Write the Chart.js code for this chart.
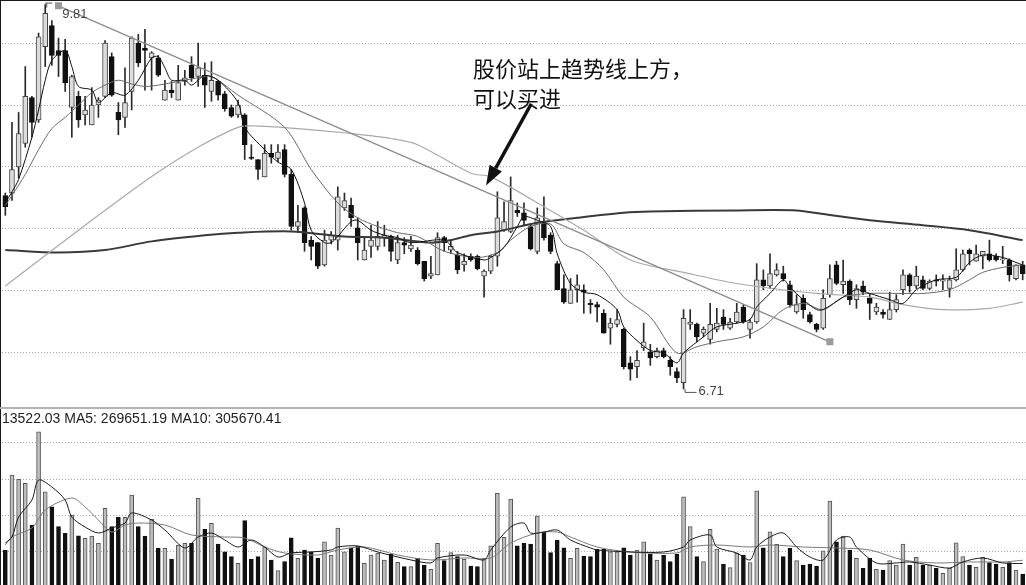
<!DOCTYPE html>
<html>
<head>
<meta charset="utf-8">
<script src="https://cdn.jsdelivr.net/npm/chart.js@4.4.1/dist/chart.umd.min.js"></script>
<style>
  html, body { margin: 0; padding: 0; background: #fff; overflow: hidden; }
  #wrap { position: relative; width: 1026px; height: 585px; }
  canvas { position: absolute; left: 0; }
  #priceCanvas { top: 0; }
  #volCanvas { top: 409px; }
  .note { position: absolute; left: 473px; top: 52px; font: 22px/30px "Noto Sans CJK SC", sans-serif; color: #111; }
  .volhead { position: absolute; left: 2px; top: 410px; font: 14px/16px "Liberation Sans", Arial, sans-serif; color: #222; white-space: pre; }
  .tag { position: absolute; font: 13px/14px "Liberation Sans", Arial, sans-serif; color: #444; }
</style>
</head>
<body>
<div id="wrap">
  <canvas id="priceCanvas" width="1026" height="409"></canvas>
  <canvas id="volCanvas" width="1026" height="176"></canvas>
  <div class="note">股价站上趋势线上方，<br>可以买进</div>
  <div class="volhead">13522.03 MA5: 269651.19 MA10: 305670.41</div>
  <div class="tag" id="hiTag"></div>
  <div class="tag" id="loTag"></div>
</div>

<script>
// ===================== DATA =====================

// daily candles (154 trading days)
const opens = [
  8.27, 8.29, 8.50, 8.69, 9.06, 8.88, 9.47, 9.64, 9.44, 9.44,
  8.98, 9.07, 8.92, 8.84, 9.00, 9.07, 9.39, 8.94, 8.90, 9.11,
  9.50, 9.46, 9.38, 9.38, 9.04, 9.12, 9.04, 9.19, 9.32, 9.23,
  9.24, 9.11, 9.19, 9.09, 8.98, 8.92, 8.92, 8.58, 8.56, 8.42,
  8.61, 8.57, 8.64, 8.44, 8.02, 8.17, 7.91, 7.89, 7.71, 7.91,
  7.91, 8.17, 8.19, 8.01, 7.75, 7.86, 7.86, 7.93, 7.94, 7.75,
  7.89, 7.84, 7.83, 7.74, 7.62, 7.63, 7.93, 7.83, 7.79, 7.71,
  7.78, 7.78, 7.62, 7.66, 7.78, 7.99, 7.98, 8.15, 8.13, 8.02,
  7.82, 8.05, 7.95, 7.72, 7.52, 7.40, 7.51, 7.51, 7.40, 7.39,
  7.32, 7.20, 7.23, 7.19, 6.92, 6.89, 7.04, 7.01, 6.97, 7.02,
  6.94, 6.85, 6.76, 7.23, 7.23, 7.16, 7.11, 7.19, 7.29, 7.20,
  7.25, 7.37, 7.19, 7.25, 7.59, 7.54, 7.63, 7.64, 7.55, 7.33,
  7.44, 7.31, 7.23, 7.20, 7.47, 7.71, 7.55, 7.58, 7.43, 7.54,
  7.44, 7.33, 7.33, 7.27, 7.35, 7.51, 7.63, 7.54, 7.59, 7.52,
  7.59, 7.58, 7.52, 7.59, 7.67, 7.83, 7.74, 7.78, 7.80, 7.78,
  7.75, 7.75, 7.60, 7.71
];
const closes = [
  8.18, 8.48, 8.77, 9.07, 8.86, 9.55, 9.74, 9.40, 9.40, 9.18,
  9.23, 8.88, 8.96, 9.00, 9.04, 9.50, 9.08, 8.88, 9.02, 9.54,
  9.34, 9.44, 9.42, 9.24, 9.12, 9.10, 9.18, 9.22, 9.22, 9.30,
  9.16, 9.20, 9.08, 8.97, 8.91, 9.00, 8.68, 8.57, 8.48, 8.61,
  8.58, 8.62, 8.44, 8.02, 8.06, 7.89, 7.86, 7.70, 7.91, 7.95,
  8.26, 8.23, 8.09, 7.89, 7.83, 7.91, 7.94, 7.95, 7.82, 7.89,
  7.87, 7.87, 7.72, 7.60, 7.64, 7.93, 7.89, 7.86, 7.67, 7.74,
  7.75, 7.68, 7.66, 7.78, 8.09, 8.06, 8.23, 8.13, 8.07, 7.84,
  8.09, 7.93, 7.82, 7.51, 7.41, 7.51, 7.55, 7.49, 7.39, 7.37,
  7.16, 7.24, 7.27, 6.89, 6.87, 6.94, 7.09, 6.96, 7.02, 6.97,
  6.89, 6.80, 7.28, 7.25, 7.13, 7.19, 7.23, 7.24, 7.23, 7.25,
  7.33, 7.25, 7.25, 7.59, 7.54, 7.64, 7.67, 7.60, 7.39, 7.39,
  7.35, 7.25, 7.19, 7.44, 7.60, 7.56, 7.58, 7.43, 7.52, 7.49,
  7.40, 7.37, 7.31, 7.35, 7.43, 7.63, 7.54, 7.62, 7.52, 7.58,
  7.58, 7.59, 7.59, 7.67, 7.80, 7.80, 7.80, 7.82, 7.75, 7.75,
  7.76, 7.63, 7.71, 7.64
];
const highs = [
  8.29, 8.86, 8.94, 9.31, 9.07, 9.58, 9.81, 9.68, 9.54, 9.53,
  9.24, 9.11, 9.07, 9.14, 9.06, 9.52, 9.42, 9.02, 9.30, 9.55,
  9.57, 9.61, 9.43, 9.40, 9.20, 9.19, 9.32, 9.28, 9.39, 9.50,
  9.34, 9.35, 9.20, 9.11, 9.00, 9.04, 8.93, 8.68, 8.56, 8.68,
  8.68, 8.68, 8.68, 8.48, 8.19, 8.18, 7.94, 7.89, 7.99, 7.98,
  8.34, 8.29, 8.25, 8.09, 7.93, 8.03, 8.06, 8.03, 7.95, 7.95,
  7.93, 7.94, 7.85, 7.74, 7.78, 7.97, 7.94, 7.91, 7.82, 7.80,
  7.80, 7.79, 7.67, 7.79, 8.30, 8.22, 8.42, 8.21, 8.21, 8.03,
  8.17, 8.26, 7.97, 7.74, 7.63, 7.60, 7.63, 7.55, 7.43, 7.41,
  7.35, 7.28, 7.35, 7.20, 6.97, 7.02, 7.24, 7.07, 7.04, 7.04,
  6.97, 6.88, 7.35, 7.35, 7.24, 7.21, 7.40, 7.36, 7.35, 7.28,
  7.40, 7.39, 7.27, 7.72, 7.67, 7.80, 7.72, 7.70, 7.58, 7.47,
  7.47, 7.33, 7.24, 7.51, 7.71, 7.74, 7.75, 7.59, 7.55, 7.58,
  7.48, 7.40, 7.35, 7.49, 7.47, 7.67, 7.64, 7.70, 7.62, 7.59,
  7.63, 7.63, 7.62, 7.84, 7.83, 7.84, 7.87, 7.82, 7.91, 7.80,
  7.86, 7.76, 7.71, 7.74
];
const lows = [
  8.11, 8.23, 8.41, 8.66, 8.74, 8.86, 9.31, 9.32, 9.23, 9.11,
  8.74, 8.82, 8.84, 8.84, 8.90, 9.06, 9.07, 8.76, 8.82, 8.96,
  9.31, 9.12, 9.12, 9.23, 9.04, 9.06, 9.04, 9.16, 9.19, 9.15,
  8.98, 9.03, 9.04, 8.95, 8.90, 8.90, 8.56, 8.56, 8.40, 8.42,
  8.53, 8.54, 8.42, 7.99, 7.97, 7.82, 7.75, 7.68, 7.70, 7.88,
  7.83, 8.15, 8.02, 7.75, 7.75, 7.77, 7.83, 7.86, 7.74, 7.72,
  7.80, 7.82, 7.71, 7.58, 7.60, 7.63, 7.82, 7.80, 7.64, 7.66,
  7.74, 7.67, 7.45, 7.64, 7.70, 7.98, 7.97, 8.10, 8.03, 7.83,
  7.80, 7.91, 7.80, 7.51, 7.40, 7.40, 7.41, 7.32, 7.32, 7.25,
  7.16, 7.07, 7.21, 6.87, 6.78, 6.80, 7.02, 6.90, 6.96, 6.96,
  6.82, 6.76, 6.71, 7.19, 7.09, 7.13, 7.07, 7.17, 7.19, 7.19,
  7.24, 7.24, 7.12, 7.24, 7.51, 7.52, 7.62, 7.58, 7.37, 7.32,
  7.28, 7.24, 7.17, 7.19, 7.45, 7.55, 7.48, 7.39, 7.36, 7.47,
  7.27, 7.31, 7.28, 7.27, 7.33, 7.47, 7.49, 7.52, 7.51, 7.51,
  7.54, 7.51, 7.45, 7.58, 7.66, 7.71, 7.74, 7.68, 7.74, 7.74,
  7.72, 7.58, 7.59, 7.59
];

// volume, in units of 10,000
const volumes = [
  41.9, 124.5, 119.8, 115.4, 69.4, 172.2, 106.1, 89.6, 67.6, 60.3,
  80.4, 57.6, 54.8, 57.3, 49.3, 87.8, 67.6, 77.9, 77.9, 102.5,
  67.6, 57.3, 75.7, 43.7, 43.7, 31.6, 47.4, 49.3, 49.3, 98.8,
  64.7, 71.3, 48.5, 40.0, 34.5, 27.2, 74.2, 31.6, 34.5, 45.5,
  30.9, 19.1, 29.0, 55.4, 32.7, 41.9, 40.0, 32.7, 51.0, 36.4,
  66.1, 40.0, 43.7, 46.3, 27.2, 36.4, 38.2, 30.9, 37.5, 28.3,
  23.5, 23.5, 32.7, 25.3, 20.6, 49.3, 30.1, 38.9, 34.5, 31.6,
  24.2, 23.5, 32.7, 46.6, 104.4, 55.9, 98.1, 46.6, 49.3, 48.5,
  79.3, 61.4, 38.9, 52.9, 44.4, 32.7, 43.7, 35.3, 34.5, 42.6,
  42.6, 40.0, 40.0, 44.4, 36.4, 41.9, 51.0, 37.5, 30.9, 36.0,
  29.0, 37.5, 100.6, 67.6, 34.5, 29.0, 64.7, 43.0, 26.4, 22.4,
  38.2, 36.4, 27.9, 107.2, 44.4, 62.0, 48.2, 34.5, 43.7, 30.1,
  25.3, 26.4, 24.2, 41.1, 95.9, 51.0, 57.3, 41.9, 32.7, 21.7,
  32.7, 20.6, 19.8, 30.1, 25.3, 48.5, 25.3, 33.8, 25.3, 25.3,
  21.7, 16.2, 21.7, 49.9, 34.5, 25.3, 22.8, 33.8, 27.9, 26.4,
  22.8, 27.9, 19.8, 15.4
];

// moving average lines, read at points along each curve: [day index, value]
const ma5Points = [
  [0, 8.21], [1, 8.30], [2, 8.40], [4, 8.74], [5, 8.96], [6, 9.20], [7, 9.36], [9, 9.44],
  [10, 9.31], [11, 9.15], [13, 9.12], [14, 9.02], [16, 9.10], [18, 9.08], [20, 9.20],
  [22, 9.38], [23, 9.39], [24, 9.30], [25, 9.20], [27, 9.20], [28, 9.16], [29, 9.20],
  [30, 9.24], [32, 9.20], [35, 9.02], [36, 8.82], [39, 8.64], [41, 8.54], [43, 8.48],
  [45, 8.21], [46, 7.99], [48, 7.89], [49, 7.89], [50, 7.94], [52, 8.06], [53, 8.07],
  [55, 7.99], [57, 7.95], [59, 7.93], [61, 7.89], [66, 7.91], [68, 7.81], [72, 7.75],
  [73, 7.77], [75, 7.85], [77, 8.02], [78, 8.10], [80, 8.07], [82, 8.02], [83, 7.80],
  [85, 7.56], [87, 7.49], [89, 7.47], [92, 7.35], [93, 7.21], [95, 7.10], [97, 7.02],
  [99, 7.00], [101, 6.92], [102, 7.00], [105, 7.13], [107, 7.21], [110, 7.24], [112, 7.27],
  [113, 7.37], [115, 7.48], [117, 7.59], [118, 7.53], [120, 7.43], [122, 7.35], [123, 7.35],
  [126, 7.45], [128, 7.51], [130, 7.48], [133, 7.43], [135, 7.40], [137, 7.51], [140, 7.59],
  [143, 7.61], [145, 7.73], [147, 7.79], [150, 7.77], [152, 7.73], [153, 7.71]
];
const ma10Points = [
  [0, 8.19], [1, 8.27], [3, 8.44], [5, 8.64], [7, 8.81], [9, 8.90], [11, 9.00], [13, 9.10],
  [15, 9.16], [17, 9.20], [19, 9.17], [21, 9.15], [23, 9.16], [25, 9.18], [27, 9.20],
  [29, 9.22], [31, 9.23], [35, 9.08], [42, 8.82], [46, 8.48], [50, 8.21], [53, 8.09],
  [56, 8.02], [59, 7.97], [62, 7.94], [66, 7.82], [71, 7.77], [74, 7.81], [76, 7.91],
  [79, 8.02], [82, 8.04], [84, 7.88], [87, 7.81], [90, 7.67], [93, 7.45], [97, 7.29],
  [101, 7.00], [104, 7.05], [107, 7.09], [111, 7.13], [114, 7.21], [117, 7.35], [120, 7.40],
  [123, 7.35], [126, 7.45], [130, 7.48], [135, 7.48], [138, 7.48], [142, 7.51], [145, 7.59],
  [147, 7.65], [150, 7.69], [153, 7.71]
];
const ma60Points = [
  [0, 7.54], [11, 7.99], [17, 8.23], [23, 8.46], [29, 8.66], [35, 8.82], [38, 8.83],
  [44, 8.81], [52, 8.77], [58, 8.73], [62, 8.68], [70, 8.45], [73, 8.42], [81, 8.18],
  [87, 7.99], [94, 7.75], [102, 7.65], [110, 7.56], [122, 7.48], [130, 7.45], [135, 7.39],
  [141, 7.35], [148, 7.36], [153, 7.41]
];
const ma250Points = [
  [0, 7.83], [8, 7.81], [15, 7.83], [22, 7.90], [30, 7.95], [35, 7.97], [43, 7.98],
  [51, 7.94], [57, 7.93], [64, 7.89], [67, 7.91], [70, 7.95], [74, 7.98], [80, 8.05],
  [86, 8.09], [93, 8.13], [97, 8.14], [110, 8.15], [119, 8.15], [123, 8.12], [130, 8.07],
  [138, 8.03], [145, 7.99], [153, 7.91]
];
// trend line drawn through the two anchor days
const trendPoints = [[8, 9.80], [124, 7.09]];

const volMa5Points = [
  [0, 49.6], [1, 56.2], [2, 78.2], [4, 97.0], [5, 119.0], [7, 111.3], [9, 97.0], [10, 78.2],
  [12, 67.2], [14, 60.6], [16, 66.1], [18, 71.6], [19, 82.7], [22, 74.9], [24, 63.9],
  [27, 44.1], [29, 56.2], [31, 60.6], [33, 52.9], [35, 45.2], [37, 52.9], [39, 45.2],
  [41, 34.2], [43, 38.6], [46, 39.7], [49, 41.9], [50, 45.2], [53, 46.3], [56, 39.7],
  [61, 30.9], [64, 27.6], [65, 33.1], [69, 36.4], [72, 30.9], [73, 41.9], [76, 67.2],
  [78, 71.6], [79, 60.6], [81, 61.7], [83, 63.9], [85, 52.9], [88, 44.1], [89, 41.9],
  [94, 39.7], [99, 39.7], [102, 45.2], [103, 52.9], [106, 58.4], [107, 45.2], [110, 38.6],
  [112, 30.9], [113, 45.2], [115, 56.2], [117, 60.6], [119, 45.2], [121, 34.2], [123, 30.9],
  [125, 52.9], [127, 56.2], [128, 45.2], [131, 27.6], [134, 27.6], [136, 28.7], [139, 25.3],
  [142, 22.0], [144, 28.7], [147, 33.1], [150, 27.6], [153, 27.0]
];
const volMa10Points = [
  [0, 47.4], [1, 56.2], [4, 66.1], [6, 86.0], [10, 99.2], [12, 89.3], [14, 74.9], [16, 61.7],
  [18, 69.4], [20, 71.6], [24, 69.4], [28, 58.4], [33, 56.2], [36, 55.1], [39, 45.2],
  [42, 38.6], [47, 36.4], [50, 41.9], [54, 45.2], [59, 36.4], [64, 30.9], [69, 33.1],
  [73, 33.1], [76, 49.6], [80, 60.6], [83, 61.7], [85, 56.2], [89, 45.2], [94, 39.7],
  [101, 38.6], [103, 45.2], [107, 47.4], [112, 45.2], [115, 47.4], [120, 45.2], [125, 44.1],
  [130, 41.9], [135, 30.9], [140, 27.6], [145, 28.7], [150, 28.7], [153, 30.6]
];

// grid levels
const priceGridTicks = [7.0, 7.5, 8.0, 8.5, 9.0, 9.5];
const volGridTicks = [40, 80, 120, 160];

// visible value windows of the two panels
const PRICE_MIN = 6.556, PRICE_MAX = 9.847;
const VOL_MIN = 3.3, VOL_MAX = 197.3;

// arrow annotation, anchored in data space: [day index, price]
const arrowTail = [79.1, 9.01];
const arrowTip = [72.3, 8.35];

// ===================== HELPERS =====================

const labels = opens.map((_, i) => String(i + 1));
const dense = pts => {
  const a = new Array(labels.length).fill(null);
  pts.forEach(([i, v]) => { a[i] = v; });
  return a;
};
const isUp = i => closes[i] >= opens[i];

const UP_FILL = '#dcdcdc', UP_EDGE = '#444444', DOWN_FILL = '#111111';
const VOL_UP_FILL = '#bdbdbd', VOL_UP_EDGE = '#555555';

const lineStyle = (color, width) => ({
  type: 'line', borderColor: color, borderWidth: width, pointRadius: 0,
  spanGaps: true, tension: 0.3, fill: false
});

const hiIdx = highs.indexOf(Math.max(...highs));
const loIdx = lows.indexOf(Math.min(...lows));

// ===================== PRICE PANEL =====================

const priceDecor = {
  id: 'priceDecor',
  afterDraw(chart) {
    const { ctx, scales: { x, y } } = chart;
    const w = chart.width, h = chart.height;
    ctx.save();
    // frame and separator
    ctx.fillStyle = '#1a1a1a';
    ctx.fillRect(0, 0, w, 1);
    ctx.fillRect(0, 0, 1, h);
    ctx.fillStyle = '#b4b4b4';
    ctx.fillRect(0, h - 2, w, 2);

    // max / min markers
    ctx.strokeStyle = '#555';
    ctx.lineWidth = 1;
    const hx = x.getPixelForValue(hiIdx), hy = y.getPixelForValue(highs[hiIdx]);
    ctx.beginPath();
    ctx.moveTo(hx, hy - 1.5); ctx.lineTo(hx + 7, hy - 1.5);
    ctx.moveTo(hx + 1.5, hy - 1.5); ctx.lineTo(hx + 1.5, hy + 3);
    ctx.stroke();
    const lx = x.getPixelForValue(loIdx), ly = y.getPixelForValue(lows[loIdx]);
    ctx.beginPath();
    ctx.moveTo(lx + 1.5, ly); ctx.lineTo(lx + 1.5, ly + 3.5); ctx.lineTo(lx + 13, ly + 3.5);
    ctx.stroke();

    // arrow
    const fx = x.getPixelForValue(arrowTail[0]), fy = y.getPixelForValue(arrowTail[1]);
    const tx = x.getPixelForValue(arrowTip[0]), ty = y.getPixelForValue(arrowTip[1]);
    const ang = Math.atan2(ty - fy, tx - fx);
    const headLen = 20, headW = 7;
    const bx = tx - headLen * Math.cos(ang), by = ty - headLen * Math.sin(ang);
    ctx.strokeStyle = '#111';
    ctx.lineWidth = 3.5;
    ctx.beginPath(); ctx.moveTo(fx, fy); ctx.lineTo(bx, by); ctx.stroke();
    ctx.fillStyle = '#111';
    ctx.beginPath();
    ctx.moveTo(tx, ty);
    ctx.lineTo(bx + headW * Math.sin(ang), by - headW * Math.cos(ang));
    ctx.lineTo(bx - headW * Math.sin(ang), by + headW * Math.cos(ang));
    ctx.closePath();
    ctx.fill();
    ctx.restore();

    const hiTag = document.getElementById('hiTag');
    hiTag.textContent = highs[hiIdx].toFixed(2);
    hiTag.style.left = (hx + 17) + 'px';
    hiTag.style.top = (hy + 2) + 'px';
    const loTag = document.getElementById('loTag');
    loTag.textContent = lows[loIdx].toFixed(2);
    loTag.style.left = (lx + 15) + 'px';
    loTag.style.top = (ly - 5) + 'px';
  }
};

new Chart(document.getElementById('priceCanvas'), {
  data: {
    labels,
    datasets: [
      {
        type: 'bar', order: 6, grouped: false, barThickness: 1,
        data: lows.map((l, i) => [l, highs[i]]),
        backgroundColor: '#2a2a2a', borderWidth: 0
      },
      {
        type: 'bar', order: 5, grouped: false, barThickness: 5,
        data: opens.map((o, i) => (o === closes[i] ? [o - 0.006, o + 0.006] : [o, closes[i]])),
        backgroundColor: opens.map((_, i) => (isUp(i) ? UP_FILL : DOWN_FILL)),
        borderColor: opens.map((_, i) => (isUp(i) ? UP_EDGE : DOWN_FILL)),
        borderWidth: 1, borderSkipped: false
      },
      { ...lineStyle('#3a3a3a', 2), order: 4, data: dense(ma250Points) },
      { ...lineStyle('#a9a9a9', 1.2), order: 3, data: dense(ma60Points) },
      { ...lineStyle('#6a6a6a', 1), order: 2, data: dense(ma10Points) },
      { ...lineStyle('#111111', 1), order: 1, data: dense(ma5Points) },
      {
        ...lineStyle('#8c8c8c', 1.3), order: 0, tension: 0,
        data: dense(trendPoints),
        pointRadius: dense(trendPoints).map(v => (v === null ? 0 : 5)),
        pointStyle: 'rect', pointBackgroundColor: '#9a9a9a', pointBorderWidth: 0
      }
    ]
  },
  options: {
    responsive: false,
    animation: false,
    events: [],
    layout: { autoPadding: false, padding: { left: 2, right: 0, top: 0, bottom: 1 } },
    plugins: { legend: { display: false }, tooltip: { enabled: false } },
    scales: {
      x: { type: 'category', display: false, offset: true },
      y: {
        min: PRICE_MIN, max: PRICE_MAX,
        afterBuildTicks: ax => { ax.ticks = priceGridTicks.map(v => ({ value: v })); },
        ticks: { display: false },
        grid: { color: '#a8a8a8', lineWidth: 1, drawTicks: false },
        border: { display: false, dash: [1, 2] }
      }
    }
  },
  plugins: [priceDecor]
});

// ===================== VOLUME PANEL =====================

const volDecor = {
  id: 'volDecor',
  afterDraw(chart) {
    const { ctx } = chart;
    ctx.save();
    ctx.fillStyle = '#1a1a1a';
    ctx.fillRect(0, 0, 1, chart.height);
    ctx.restore();
  }
};

new Chart(document.getElementById('volCanvas'), {
  data: {
    labels,
    datasets: [
      {
        type: 'bar', order: 3, grouped: false, barThickness: 4,
        data: volumes,
        backgroundColor: volumes.map((_, i) => (isUp(i) ? VOL_UP_FILL : DOWN_FILL)),
        borderColor: volumes.map((_, i) => (isUp(i) ? VOL_UP_EDGE : DOWN_FILL)),
        borderWidth: 1, borderSkipped: false
      },
      { ...lineStyle('#7a7a7a', 1), order: 2, data: dense(volMa10Points) },
      { ...lineStyle('#1a1a1a', 1), order: 1, data: dense(volMa5Points) }
    ]
  },
  options: {
    responsive: false,
    animation: false,
    events: [],
    layout: { autoPadding: false, padding: { left: 2, right: 0, top: 0, bottom: 0 } },
    plugins: { legend: { display: false }, tooltip: { enabled: false } },
    scales: {
      x: { type: 'category', display: false, offset: true },
      y: {
        min: VOL_MIN, max: VOL_MAX,
        afterBuildTicks: ax => { ax.ticks = volGridTicks.map(v => ({ value: v })); },
        ticks: { display: false },
        grid: { color: '#a8a8a8', lineWidth: 1, drawTicks: false },
        border: { display: false, dash: [1, 2] }
      }
    }
  },
  plugins: [volDecor]
});
</script>
</body>
</html>
